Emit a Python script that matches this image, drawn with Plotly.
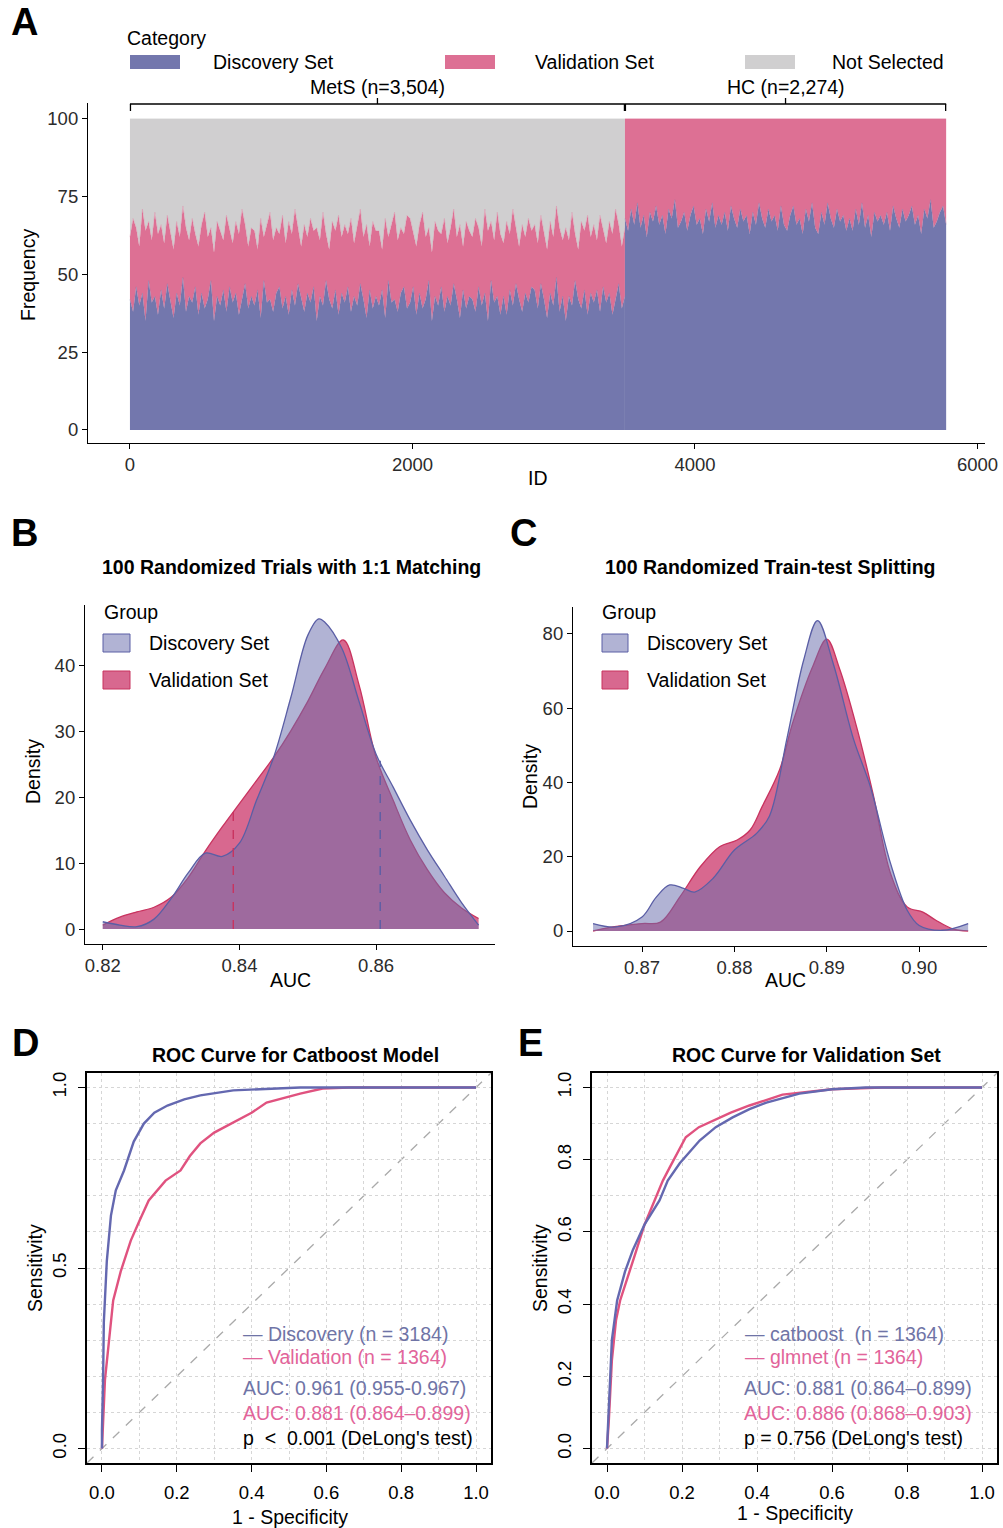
import numpy as np
import plotly.graph_objects as go

W, H = 1003, 1528
FONT = "Arial, 'Liberation Sans', Helvetica, sans-serif"

# ---------------- DATA ----------------
# Panel A: frequency (out of 100 trials) per ID bin
mets_n = 3504
hc_n = 2274
mets_discovery = [42, 38, 46, 40, 44, 35, 48, 41, 43, 37,
                  45, 39, 47, 42, 36, 44, 40, 49, 38, 43,
                  41, 46, 37, 44, 39, 42, 48, 35, 43, 40,
                  45, 38, 46, 41, 44, 37, 42, 47, 39, 43,
                  40, 45, 36, 48, 41, 42, 38, 44, 46, 39,
                  43, 37, 45, 40, 47, 42, 38, 44, 41, 46,
                  35, 43, 40, 48, 42, 39, 45, 37, 44, 41,
                  46, 38, 43, 40, 47, 42, 36, 45, 39, 43,
                  40, 45, 36, 48, 41, 42, 38, 44, 46, 39,
                  41, 46, 37, 44, 39, 42, 48, 35, 43, 40,
                  46, 38, 43, 40, 47, 42, 36, 45, 39, 43,
                  42, 38, 46, 40, 44, 35, 48, 41, 43, 37,
                  43, 37, 45, 40, 47, 42, 38, 44, 41, 46,
                  45, 39, 47, 42, 36, 44, 40, 49, 38, 43,
                  35, 43, 40, 48, 42, 39, 45, 37, 44, 41,
                  45, 38, 46, 41, 44, 37, 42, 47, 39, 43]
mets_validation = [20, 30, 19, 19, 27, 29, 19, 20, 27, 26,
                   21, 21, 22, 22, 22, 23, 22, 23, 27, 18,
                   27, 17, 22, 22, 31, 20, 17, 22, 24, 24,
                   16, 31, 18, 19, 23, 26, 29, 19, 20, 22,
                   24, 13, 32, 14, 25, 28, 23, 21, 17, 30,
                   17, 30, 18, 31, 18, 17, 28, 18, 27, 18,
                   30, 18, 30, 15, 16, 28, 19, 32, 18, 25,
                   17, 30, 17, 25, 24, 20, 30, 14, 28, 21,
                   24, 13, 32, 14, 25, 28, 23, 21, 17, 30,
                   27, 17, 22, 22, 31, 20, 17, 22, 24, 24,
                   17, 30, 17, 25, 24, 20, 30, 14, 28, 21,
                   20, 30, 19, 19, 27, 29, 19, 20, 27, 26,
                   17, 30, 18, 31, 18, 17, 28, 18, 27, 18,
                   21, 21, 22, 22, 22, 23, 22, 23, 27, 18,
                   30, 18, 30, 15, 16, 28, 19, 32, 18, 25,
                   16, 31, 18, 19, 23, 26, 29, 19, 20, 22]
mets_not_selected = [38, 32, 35, 41, 29, 36, 33, 39, 30, 37,
                     34, 40, 31, 36, 42, 33, 38, 28, 35, 39,
                     32, 37, 41, 34, 30, 38, 35, 43, 33, 36,
                     39, 31, 36, 40, 33, 37, 29, 34, 41, 35,
                     36, 42, 32, 38, 34, 30, 39, 35, 37, 31,
                     40, 33, 37, 29, 35, 41, 34, 38, 32, 36,
                     35, 39, 30, 37, 42, 33, 36, 31, 38, 34,
                     37, 32, 40, 35, 29, 38, 34, 41, 33, 36,
                     36, 42, 32, 38, 34, 30, 39, 35, 37, 31,
                     32, 37, 41, 34, 30, 38, 35, 43, 33, 36,
                     37, 32, 40, 35, 29, 38, 34, 41, 33, 36,
                     38, 32, 35, 41, 29, 36, 33, 39, 30, 37,
                     40, 33, 37, 29, 35, 41, 34, 38, 32, 36,
                     34, 40, 31, 36, 42, 33, 38, 28, 35, 39,
                     35, 39, 30, 37, 42, 33, 36, 31, 38, 34,
                     39, 31, 36, 40, 33, 37, 29, 34, 41, 35]
hc_discovery = [68, 64, 71, 66, 73, 65, 69, 62, 70, 67,
                72, 66, 69, 63, 71, 68, 74, 65, 67, 70,
                64, 69, 72, 66, 68, 63, 71, 67, 73, 65,
                69, 66, 70, 64, 72, 68, 65, 71, 67, 69,
                63, 70, 66, 73, 68, 65, 71, 67, 69, 64,
                72, 66,
                64, 69, 72, 66, 68, 63, 71, 67, 73, 65,
                63, 70, 66, 73, 68, 65, 71, 67, 69, 64,
                68, 64, 71, 66, 73, 65, 69, 62, 70, 67,
                69, 66, 70, 64, 72, 68, 65, 71, 67, 69,
                72, 66, 69, 63, 71, 68, 74, 65, 67, 70,
                72, 66]
hc_validation = [32, 36, 29, 34, 27, 35, 31, 38, 30, 33,
                 28, 34, 31, 37, 29, 32, 26, 35, 33, 30,
                 36, 31, 28, 34, 32, 37, 29, 33, 27, 35,
                 31, 34, 30, 36, 28, 32, 35, 29, 33, 31,
                 37, 30, 34, 27, 32, 35, 29, 33, 31, 36,
                 28, 34,
                 36, 31, 28, 34, 32, 37, 29, 33, 27, 35,
                 37, 30, 34, 27, 32, 35, 29, 33, 31, 36,
                 32, 36, 29, 34, 27, 35, 31, 38, 30, 33,
                 31, 34, 30, 36, 28, 32, 35, 29, 33, 31,
                 28, 34, 31, 37, 29, 32, 26, 35, 33, 30,
                 28, 34]
a_xticks = [0, 2000, 4000, 6000]
a_yticks = [0, 25, 50, 75, 100]
a_categories = ["Discovery Set", "Validation Set", "Not Selected"]

# Panel B: AUC density, 100 randomized trials with 1:1 matching
b_disc_auc = [0.8200, 0.8225, 0.8250, 0.8275, 0.8300, 0.8325, 0.8350, 0.8375, 0.8400, 0.8425,
              0.8450, 0.8475, 0.8500, 0.8516, 0.8525, 0.8550, 0.8575, 0.8600, 0.8625, 0.8650,
              0.8675, 0.8700, 0.8725, 0.8750]
b_disc_den = [1.1, 0.6, 0.35, 1.5, 4.6, 8.5, 11.5, 11.0, 13.0, 19.5,
              26.0, 35.0, 44.5, 47.0, 46.5, 42.5, 34.5, 26.5, 21.5, 16.5,
              12.0, 8.0, 4.0, 0.6]
b_val_auc = [0.8200, 0.8225, 0.8250, 0.8275, 0.8300, 0.8325, 0.8350, 0.8375, 0.8400, 0.8425,
             0.8450, 0.8475, 0.8500, 0.8525, 0.8552, 0.8575, 0.8600, 0.8625, 0.8650, 0.8675,
             0.8700, 0.8725, 0.8750]
b_val_den = [0.6, 1.8, 2.6, 3.3, 4.8, 7.8, 11.8, 15.5, 19.0, 22.5,
             26.0, 30.0, 34.5, 39.5, 43.8, 37.0, 26.0, 19.5, 13.5, 9.0,
             5.5, 3.2, 1.6]
b_ref_auc = [0.8606, 0.8391]   # discovery, validation dashed markers
b_ref_height = [25.5, 18.5]

# Panel C: AUC density, 100 randomized train-test splitting
c_disc_auc = [0.8647, 0.8672, 0.8700, 0.8715, 0.8730, 0.8745, 0.8757, 0.8777, 0.8800, 0.8824,
              0.8838, 0.8857, 0.8875, 0.8890, 0.8907, 0.8929, 0.8947, 0.8969, 0.8987, 0.9000,
              0.9025, 0.9053]
c_disc_den = [2.0, 1.1, 3.8, 9.0, 12.4, 11.5, 10.5, 14.2, 21.8, 26.3,
              31.0, 52.0, 73.0, 83.6, 72.0, 51.6, 39.0, 18.2, 5.6, 1.5,
              0.2, 2.0]
c_val_auc = [0.8647, 0.8665, 0.8700, 0.8720, 0.8741, 0.8763, 0.8784, 0.8803, 0.8817, 0.8830,
             0.8849, 0.8863, 0.8885, 0.8900, 0.8914, 0.8933, 0.8950, 0.8969, 0.8987, 0.9004,
             0.9018, 0.9036, 0.9053]
c_val_den = [0.0, 1.0, 2.0, 2.4, 9.2, 17.3, 22.7, 24.5, 27.2, 33.5,
             43.5, 56.0, 71.4, 78.6, 70.5, 54.3, 37.0, 15.5, 6.5, 5.1,
             2.9, 0.6, 0.0]

# Panel D: ROC for catboost model
d_disc_fpr = [0, 0.000, 0.003, 0.005, 0.013, 0.024, 0.037, 0.059, 0.085, 0.112,
              0.140, 0.175, 0.220, 0.263, 0.351, 0.440, 0.530, 0.650, 0.800, 1.0]
d_disc_tpr = [0, 0.05, 0.19, 0.35, 0.52, 0.645, 0.715, 0.77, 0.85, 0.90,
              0.93, 0.95, 0.967, 0.978, 0.992, 0.997, 1.0, 1.0, 1.0, 1.0]
d_val_fpr = [0, 0.003, 0.008, 0.019, 0.030, 0.050, 0.077, 0.100, 0.125, 0.170,
             0.210, 0.235, 0.263, 0.300, 0.351, 0.400, 0.440, 0.490, 0.530, 0.590,
             0.660, 0.800, 1.0]
d_val_tpr = [0, 0.08, 0.19, 0.30, 0.41, 0.49, 0.576, 0.63, 0.687, 0.742,
             0.77, 0.81, 0.845, 0.875, 0.903, 0.93, 0.958, 0.972, 0.983, 0.997,
             1.0, 1.0, 1.0]
d_legend = ["Discovery (n = 3184)", "Validation (n = 1364)"]
d_auc_text = ["AUC: 0.961 (0.955-0.967)", "AUC: 0.881 (0.864\u20130.899)"]
d_p_text = "p  <  0.001 (DeLong's test)"

# Panel E: ROC for validation set
e_cat_fpr = [0, 0.002, 0.005, 0.013, 0.027, 0.048, 0.069, 0.100, 0.140, 0.162,
             0.194, 0.247, 0.290, 0.335, 0.380, 0.425, 0.513, 0.600, 0.690, 0.850, 1.0]
e_cat_tpr = [0, 0.05, 0.13, 0.30, 0.41, 0.49, 0.55, 0.62, 0.687, 0.742,
             0.79, 0.853, 0.89, 0.917, 0.94, 0.958, 0.983, 0.995, 1.0, 1.0, 1.0]
e_glm_fpr = [0, 0.002, 0.005, 0.013, 0.024, 0.035, 0.053, 0.074, 0.100, 0.128,
             0.149, 0.168, 0.210, 0.245, 0.282, 0.330, 0.380, 0.468, 0.600, 0.734,
             0.850, 1.0]
e_glm_tpr = [0, 0.03, 0.08, 0.244, 0.355, 0.41, 0.465, 0.535, 0.62, 0.687,
             0.742, 0.78, 0.862, 0.89, 0.908, 0.93, 0.95, 0.98, 0.995, 1.0,
             1.0, 1.0]
e_legend = ["catboost  (n = 1364)", "glmnet (n = 1364)"]
e_auc_text = ["AUC: 0.881 (0.864\u20130.899)", "AUC: 0.886 (0.868\u20130.903)"]
e_p_text = "p = 0.756 (DeLong's test)"

# ---------------- STYLE ----------------
C_DISC = "#7377AD"
C_VAL = "#DD7094"
C_NOT = "#D0CFD0"
DEN_BLUE_FILL = "rgba(105,109,173,0.52)"
DEN_RED_FILL = "rgba(200,40,95,0.70)"
DEN_BLUE_LINE = "#5A5EA5"
DEN_RED_LINE = "#C8335F"
ROC_BLUE = "#6468B0"
ROC_RED = "#E0527F"
TXT_BLUE = "#6F74A6"
TXT_RED = "#E2649A"
FS = 19.5      # general text size
FT = 19.5      # titles


def xd(a, b):
    return [a / W, b / W]


def yd(top, bottom):
    return [1 - bottom / H, 1 - top / H]


def px(x):
    return x / W


def py(y):
    return 1 - y / H


fig = go.Figure()

# ---- Panel A ----
mets_x = np.linspace(0, mets_n, len(mets_discovery))
hc_x = np.linspace(mets_n, mets_n + hc_n, len(hc_discovery))
for yv, col in [(mets_discovery, C_DISC), (mets_validation, C_VAL), (mets_not_selected, C_NOT)]:
    fig.add_trace(go.Scatter(x=mets_x, y=yv, mode="lines", stackgroup="mets",
                             line=dict(width=0.3, color=col), fillcolor=col,
                             xaxis="x", yaxis="y", hoverinfo="skip"))
for yv, col in [(hc_discovery, C_DISC), (hc_validation, C_VAL)]:
    fig.add_trace(go.Scatter(x=hc_x, y=yv, mode="lines", stackgroup="hc",
                             line=dict(width=0.3, color=col), fillcolor=col,
                             xaxis="x", yaxis="y", hoverinfo="skip"))

# ---- Panel B ----
fig.add_trace(go.Scatter(x=b_val_auc, y=b_val_den, mode="lines", fill="tozeroy",
                         fillcolor=DEN_RED_FILL, line=dict(color=DEN_RED_LINE, width=1.3, shape="spline"),
                         xaxis="x2", yaxis="y2", hoverinfo="skip"))
fig.add_trace(go.Scatter(x=b_disc_auc, y=b_disc_den, mode="lines", fill="tozeroy",
                         fillcolor=DEN_BLUE_FILL, line=dict(color=DEN_BLUE_LINE, width=1.3, shape="spline"),
                         xaxis="x2", yaxis="y2", hoverinfo="skip"))
for v, h, c in zip(b_ref_auc, b_ref_height, [DEN_BLUE_LINE, DEN_RED_LINE]):
    fig.add_trace(go.Scatter(x=[v, v], y=[0, h], mode="lines",
                             line=dict(color=c, width=1.4, dash="dash"),
                             xaxis="x2", yaxis="y2", hoverinfo="skip"))

# ---- Panel C ----
fig.add_trace(go.Scatter(x=c_val_auc, y=c_val_den, mode="lines", fill="tozeroy",
                         fillcolor=DEN_RED_FILL, line=dict(color=DEN_RED_LINE, width=1.3, shape="spline"),
                         xaxis="x3", yaxis="y3", hoverinfo="skip"))
fig.add_trace(go.Scatter(x=c_disc_auc, y=c_disc_den, mode="lines", fill="tozeroy",
                         fillcolor=DEN_BLUE_FILL, line=dict(color=DEN_BLUE_LINE, width=1.3, shape="spline"),
                         xaxis="x3", yaxis="y3", hoverinfo="skip"))

# ---- Panel D / E ----
ROC_RANGE = [-0.04, 1.04]
for ax in ["4", "5"]:
    fig.add_shape(type="line", xref="x" + ax, yref="y" + ax,
                  x0=ROC_RANGE[0], y0=ROC_RANGE[0], x1=ROC_RANGE[1], y1=ROC_RANGE[1],
                  line=dict(color="#AAAAAA", width=1.3, dash="dash"), layer="below")

fig.add_trace(go.Scatter(x=d_val_fpr, y=d_val_tpr, mode="lines",
                         line=dict(color=ROC_RED, width=2.4), xaxis="x4", yaxis="y4", hoverinfo="skip"))
fig.add_trace(go.Scatter(x=d_disc_fpr, y=d_disc_tpr, mode="lines",
                         line=dict(color=ROC_BLUE, width=2.4), xaxis="x4", yaxis="y4", hoverinfo="skip"))
fig.add_trace(go.Scatter(x=e_glm_fpr, y=e_glm_tpr, mode="lines",
                         line=dict(color=ROC_RED, width=2.4), xaxis="x5", yaxis="y5", hoverinfo="skip"))
fig.add_trace(go.Scatter(x=e_cat_fpr, y=e_cat_tpr, mode="lines",
                         line=dict(color=ROC_BLUE, width=2.4), xaxis="x5", yaxis="y5", hoverinfo="skip"))

# ---------------- AXES ----------------
axA = dict(showline=True, linecolor="black", linewidth=1.2, ticks="outside", ticklen=5,
           tickwidth=1.2, tickcolor="black", showgrid=False, zeroline=False,
           tickfont=dict(size=18.5, color="#2b2b2b", family=FONT), fixedrange=True)
gridkw = dict(gridcolor="#D6D6D6", griddash="dot", gridwidth=1)
axR = dict(showline=True, mirror=True, linecolor="black", linewidth=1.5, ticks="outside",
           ticklen=7, tickwidth=1.2, tickcolor="black", showgrid=True, zeroline=False,
           tickfont=dict(size=18.5, color="black", family=FONT), range=ROC_RANGE, tick0=0,
           tickformat=".1f", ticklabelstandoff=5,
           minor=dict(dtick=0.1, tick0=0, showgrid=True, **gridkw), **gridkw)

fig.update_layout(
    width=W, height=H, margin=dict(l=0, r=0, t=0, b=0, autoexpand=False), autosize=False,
    paper_bgcolor="white", plot_bgcolor="white", showlegend=False,
    font=dict(family=FONT, color="black"),
    xaxis=dict(domain=xd(88, 985), range=[-297, 6053], tickvals=a_xticks, anchor="y", **axA),
    yaxis=dict(domain=yd(103, 443), range=[-4.2, 105.1], tickvals=a_yticks, anchor="x", **axA),
    xaxis2=dict(domain=xd(85, 495), range=[0.8174, 0.8774], tickvals=[0.82, 0.84, 0.86],
                tickformat=".2f", anchor="y2", **axA),
    yaxis2=dict(domain=yd(605, 944), range=[-2.27, 49.1], tickvals=[0, 10, 20, 30, 40],
                anchor="x2", **axA),
    xaxis3=dict(domain=xd(573, 987), range=[0.86253, 0.90734], tickvals=[0.87, 0.88, 0.89, 0.90],
                tickformat=".2f", anchor="y3", **axA),
    yaxis3=dict(domain=yd(607, 946), range=[-4.04, 87.27], tickvals=[0, 20, 40, 60, 80],
                anchor="x3", **axA),
    xaxis4=dict(domain=xd(87, 491), dtick=0.2, anchor="y4", **axR),
    yaxis4=dict(domain=yd(1073, 1463), dtick=0.5, tickangle=-90, anchor="x4", **axR),
    xaxis5=dict(domain=xd(592, 997), dtick=0.2, anchor="y5", **axR),
    yaxis5=dict(domain=yd(1073, 1463), dtick=0.2, tickangle=-90, anchor="x5", **axR),
)

# ---------------- ANNOTATIONS / SHAPES ----------------
anns = []


def ann(x, y, text, size=FS, color="black", bold=False, xanchor="center", angle=0):
    t = "<b>%s</b>" % text if bold else text
    anns.append(dict(x=px(x), y=py(y), xref="paper", yref="paper", text=t, showarrow=False,
                     xanchor=xanchor, yanchor="middle", textangle=angle,
                     font=dict(size=size, color=color, family=FONT)))


def rect(x0, y0, x1, y1, fill, line=None, lw=0):
    fig.add_shape(type="rect", xref="paper", yref="paper", x0=px(x0), x1=px(x1),
                  y0=py(y1), y1=py(y0), fillcolor=fill,
                  line=dict(color=line if line else fill, width=lw))


def seg(x0, y0, x1, y1, color="black", w=1.3):
    fig.add_shape(type="line", xref="paper", yref="paper", x0=px(x0), y0=py(y0),
                  x1=px(x1), y1=py(y1), line=dict(color=color, width=w))


# Panel letters
for letter, x, y in [("A", 24, 22), ("B", 24, 533), ("C", 523, 533), ("D", 25, 1043), ("E", 530, 1043)]:
    ann(x, y, letter, size=38, bold=True)

# Panel A legend
ann(125, 38, "Category", xanchor="left")
for (x0, xt), lab, col in zip([(130, 211), (445, 533), (745, 830)], a_categories, [C_DISC, C_VAL, C_NOT]):
    rect(x0, 55, x0 + 50, 69, col)
    ann(xt, 62, lab, xanchor="left")


def a_px(v):
    return 88 + (v + 297) / (6053 + 297) * (985 - 88)


# brackets
for lo, hi, lab in [(0, mets_n, "MetS (n=3,504)"), (mets_n, mets_n + hc_n, "HC (n=2,274)")]:
    x0, x1 = a_px(lo), a_px(hi)
    xm = (x0 + x1) / 2
    seg(x0, 104, x1, 104)
    seg(x0 + 0.5, 104, x0 + 0.5, 111)
    seg(x1 - 0.5, 104, x1 - 0.5, 111)
    seg(xm, 104, xm, 98)
    ann(xm, 87, lab)

ann(28, 275, "Frequency", angle=-90)
ann(538, 478, "ID")

# Panel B
ann(291, 567, "100 Randomized Trials with 1:1 Matching", size=FT, bold=True)
ann(102, 612, "Group", xanchor="left")
rect(103, 634, 130, 652, DEN_BLUE_FILL, DEN_BLUE_LINE, 1)
rect(103, 671, 130, 689, DEN_RED_FILL, DEN_RED_LINE, 1)
ann(147, 643, "Discovery Set", xanchor="left")
ann(147, 680, "Validation Set", xanchor="left")
ann(33, 772, "Density", angle=-90)
ann(290, 980, "AUC")

# Panel C
ann(770, 567, "100 Randomized Train-test Splitting", size=FT, bold=True)
ann(600, 612, "Group", xanchor="left")
rect(602, 634, 628, 652, DEN_BLUE_FILL, DEN_BLUE_LINE, 1)
rect(602, 671, 628, 689, DEN_RED_FILL, DEN_RED_LINE, 1)
ann(645, 643, "Discovery Set", xanchor="left")
ann(645, 680, "Validation Set", xanchor="left")
ann(530, 777, "Density", angle=-90)
ann(785, 980, "AUC")

# Panel D
ann(295, 1055, "ROC Curve for Catboost Model", size=FT, bold=True)
ann(35, 1268, "Sensitivity", angle=-90)
ann(290, 1517, "1 - Specificity")
ann(241, 1334, "\u2014 " + d_legend[0], color=TXT_BLUE, xanchor="left")
ann(241, 1357, "\u2014 " + d_legend[1], color=TXT_RED, xanchor="left")
ann(241, 1388, d_auc_text[0], color=TXT_BLUE, xanchor="left")
ann(241, 1413, d_auc_text[1], color=TXT_RED, xanchor="left")
ann(241, 1438, d_p_text, color="black", xanchor="left")

# Panel E
ann(806, 1055, "ROC Curve for Validation Set", size=FT, bold=True)
ann(540, 1268, "Sensitivity", angle=-90)
ann(795, 1513, "1 - Specificity")
ann(743, 1334, "\u2014 " + e_legend[0], color=TXT_BLUE, xanchor="left")
ann(743, 1357, "\u2014 " + e_legend[1], color=TXT_RED, xanchor="left")
ann(742, 1388, e_auc_text[0], color=TXT_BLUE, xanchor="left")
ann(742, 1413, e_auc_text[1], color=TXT_RED, xanchor="left")
ann(742, 1438, e_p_text, color="black", xanchor="left")

fig.update_layout(annotations=anns)
fig.write_html("out.html",
               config={"responsive": False, "displayModeBar": False},
               post_script="document.body.style.margin='0px';document.body.style.overflow='hidden';")
